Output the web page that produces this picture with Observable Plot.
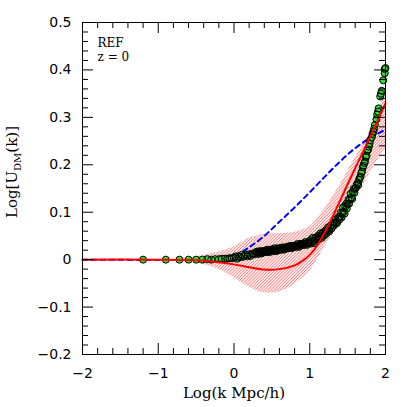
<!DOCTYPE html>
<html><head><meta charset="utf-8">
<script src="https://cdn.jsdelivr.net/npm/d3@7"></script>
<script src="https://cdn.jsdelivr.net/npm/@observablehq/plot@0.6"></script>
<style>
html,body{margin:0;padding:0;background:#fff;}
</style>
</head><body>
<svg width="0" height="0" style="position:absolute"><defs>
<pattern id="hatch" patternUnits="userSpaceOnUse" width="2.2" height="3" patternTransform="rotate(45)">
<line x1="0.5" y1="0" x2="0.5" y2="3" stroke="#ff2020" stroke-width="0.9" stroke-opacity="0.6"/>
</pattern></defs></svg>
<div id="chart"></div>
<script>
// ---- data ----
const xMajor = [-2, -1, 0, 1, 2];
const xMinor = [-1.8, -1.6, -1.4, -1.2, -0.8, -0.6, -0.4, -0.2, 0.2, 0.4, 0.6, 0.8, 1.2, 1.4, 1.6, 1.8];
const yMajor = [-0.2, -0.1, 0, 0.1, 0.2, 0.3, 0.4, 0.5];
const yMinor = [-0.18, -0.16, -0.14, -0.12, -0.08, -0.06, -0.04, -0.02, 0.02, 0.04, 0.06, 0.08,
  0.12, 0.14, 0.16, 0.18, 0.22, 0.24, 0.26, 0.28, 0.32, 0.34, 0.36, 0.38, 0.42, 0.44, 0.46, 0.48];

// hatched band (model range)
const bandX  = [-1.0, -0.6, -0.4, -0.2, 0, 0.2, 0.4, 0.6, 0.8, 1.0, 1.1, 1.2, 1.4, 1.6, 1.8, 2.0];
const bandLo = [0, -0.003, -0.010, -0.021, -0.038, -0.058, -0.070, -0.068, -0.052, -0.024, 0.0, 0.028, 0.076, 0.128, 0.185, 0.235];
const bandHi = [0, 0.003, 0.009, 0.016, 0.027, 0.045, 0.053, 0.055, 0.058, 0.070, 0.087, 0.108, 0.158, 0.215, 0.272, 0.355];

// red solid model
const redX = [-2, -1, -0.6, -0.3, 0, 0.2, 0.4, 0.6, 0.8, 0.9, 1.0, 1.1, 1.2, 1.3, 1.4, 1.5, 1.6, 1.7, 1.8, 1.9, 2.0];
const redY = [0, 0, -0.001, -0.004, -0.010, -0.016, -0.021, -0.020, -0.012, -0.003, 0.010, 0.030, 0.058, 0.090, 0.124, 0.159, 0.193, 0.226, 0.259, 0.294, 0.330];

// blue dashed model
const blueX = [-2, -0.4, -0.2, 0, 0.2, 0.4, 0.6, 0.8, 1.0, 1.2, 1.4, 1.6, 1.8, 2.0];
const blueY = [0, 0, 0.002, 0.008, 0.026, 0.050, 0.080, 0.110, 0.142, 0.175, 0.207, 0.235, 0.257, 0.274];

// simulation points
const ptX = [-1.20, -0.90, -0.72, -0.60, -0.50, -0.42, -0.35, -0.30, -0.25, -0.20, -0.16, -0.12, -0.09, -0.06, -0.03, 0.00,
  0.02, 0.04, 0.06, 0.08, 0.10, 0.12, 0.14, 0.16, 0.18, 0.20, 0.22, 0.24, 0.26, 0.28, 0.30,
  0.31, 0.32, 0.33, 0.34, 0.35, 0.36, 0.37, 0.38, 0.39, 0.40,
  0.41, 0.42, 0.43, 0.44, 0.45, 0.46, 0.47, 0.48, 0.49, 0.50,
  0.51, 0.52, 0.53, 0.54, 0.55, 0.56, 0.57, 0.58, 0.59, 0.60,
  0.61, 0.62, 0.63, 0.64, 0.65, 0.66, 0.67, 0.68, 0.69, 0.70,
  0.71, 0.72, 0.73, 0.74, 0.75, 0.76, 0.77, 0.78, 0.79, 0.80,
  0.81, 0.82, 0.83, 0.84, 0.85, 0.86, 0.87, 0.88, 0.89, 0.90,
  0.91, 0.92, 0.93, 0.94, 0.95, 0.96, 0.97, 0.98, 0.99, 1.00,
  1.01, 1.02, 1.03, 1.04, 1.05, 1.06, 1.07, 1.08, 1.09, 1.10,
  1.11, 1.12, 1.13, 1.14, 1.15, 1.16, 1.17, 1.18, 1.19, 1.20,
  1.21, 1.22, 1.23, 1.24, 1.25, 1.26, 1.27, 1.28, 1.29, 1.30,
  1.31, 1.32, 1.33, 1.34, 1.35, 1.36, 1.37, 1.38, 1.39, 1.40,
  1.41, 1.42, 1.43, 1.44, 1.45, 1.46, 1.47, 1.48, 1.49, 1.50,
  1.51, 1.52, 1.53, 1.54, 1.55, 1.56, 1.57, 1.58, 1.59, 1.60,
  1.61, 1.62, 1.63, 1.64, 1.65, 1.66, 1.67, 1.68, 1.69, 1.70,
  1.71, 1.72, 1.73, 1.74, 1.75, 1.76, 1.77, 1.78, 1.79, 1.80,
  1.82, 1.83, 1.84, 1.85, 1.86, 1.88, 1.89, 1.90, 1.91, 1.93, 1.94, 1.95, 1.97, 1.99, 1.99, 2.00];
const ptY = [0.000, 0.000, 0.000, 0.000, 0.000, 0.000, 0.001, 0.000, 0.001, 0.001, 0.002, 0.002, 0.002, 0.003, 0.003, 0.004,
  0.007, 0.002, 0.007, 0.005, 0.010, 0.006, 0.008, 0.011, 0.007, 0.011, 0.008, 0.013, 0.012, 0.012, 0.017,
  0.016, 0.012, 0.015, 0.018, 0.014, 0.013, 0.017, 0.018, 0.015, 0.017,
  0.019, 0.016, 0.018, 0.021, 0.017, 0.016, 0.020, 0.021, 0.017, 0.020,
  0.022, 0.018, 0.020, 0.024, 0.020, 0.018, 0.022, 0.024, 0.020, 0.022,
  0.024, 0.021, 0.023, 0.026, 0.023, 0.021, 0.025, 0.026, 0.023, 0.025,
  0.027, 0.024, 0.026, 0.029, 0.026, 0.024, 0.028, 0.029, 0.026, 0.028,
  0.030, 0.027, 0.029, 0.033, 0.029, 0.027, 0.032, 0.033, 0.030, 0.032,
  0.034, 0.031, 0.033, 0.037, 0.033, 0.031, 0.036, 0.037, 0.034, 0.036,
  0.041, 0.034, 0.039, 0.046, 0.039, 0.035, 0.044, 0.047, 0.040, 0.045,
  0.050, 0.043, 0.048, 0.055, 0.049, 0.046, 0.055, 0.058, 0.051, 0.056,
  0.062, 0.055, 0.061, 0.068, 0.062, 0.060, 0.069, 0.073, 0.066, 0.072,
  0.078, 0.072, 0.077, 0.085, 0.079, 0.077, 0.087, 0.090, 0.084, 0.090,
  0.099, 0.089, 0.098, 0.110, 0.101, 0.097, 0.112, 0.118, 0.108, 0.117,
  0.126, 0.118, 0.127, 0.139, 0.131, 0.128, 0.143, 0.149, 0.141, 0.150,
  0.152, 0.158, 0.161, 0.157, 0.168, 0.172, 0.175, 0.182, 0.186, 0.195,
  0.198, 0.204, 0.207, 0.216, 0.219, 0.229, 0.232, 0.238, 0.244, 0.252,
  0.258, 0.265, 0.270, 0.276, 0.284, 0.296, 0.306, 0.312, 0.319, 0.344, 0.350, 0.356, 0.378, 0.393, 0.402, 0.404];

// ---- tables built from the arrays ----
const band = bandX.map((x, i) => ({x, lo: bandLo[i], hi: bandHi[i]}));
const red = redX.map((x, i) => ({x, y: redY[i]}));
const blue = blueX.map((x, i) => ({x, y: blueY[i]}));
const pts = ptX.map((x, i) => ({x, y: ptY[i]}));

const minus = s => s.replace("-", "\u2212");
const fmtX = d => minus(String(d));
const fmtY = d => d === 0 ? "0" : minus(d.toFixed(1));
const tickFont = "'DejaVu Sans', sans-serif";
const serif = "'DejaVu Serif', serif";

// plot frame geometry
const W = 407, H = 407, mL = 82, mR = 22, mT = 22, mB = 53;
const fw = W - mL - mR, fh = H - mT - mB;

// inward ticks on all four sides (tick marks inset to a short length)
const tickMarks = [];
for (const [vals, len] of [[xMajor, 11], [xMinor, 6]]) {
  tickMarks.push(Plot.tickX(vals, {x: d => d, insetTop: fh - len, stroke: "black", strokeWidth: 1}));
  tickMarks.push(Plot.tickX(vals, {x: d => d, insetBottom: fh - len, stroke: "black", strokeWidth: 1}));
}
for (const [vals, len] of [[yMajor, 11], [yMinor, 6]]) {
  tickMarks.push(Plot.tickY(vals, {y: d => d, insetRight: fw - len, stroke: "black", strokeWidth: 1}));
  tickMarks.push(Plot.tickY(vals, {y: d => d, insetLeft: fw - len, stroke: "black", strokeWidth: 1}));
}

const chart = Plot.plot({
  width: W, height: H,
  marginLeft: mL, marginRight: mR, marginTop: mT, marginBottom: mB,
  style: {background: "white", color: "black", fontFamily: tickFont},
  x: {domain: [-2, 2]},
  y: {domain: [-0.2, 0.5]},
  marks: [
    Plot.areaY(band, {x: "x", y1: "lo", y2: "hi", fill: "url(#hatch)", curve: "catmull-rom"}),
    Plot.line(blue, {x: "x", y: "y", stroke: "#0000ff", strokeWidth: 2, strokeDasharray: "5,4", curve: "catmull-rom"}),
    Plot.dot(pts, {x: "x", y: "y", r: 3.5, fill: "#33dd33", stroke: "none"}),
    Plot.dot(pts, {x: "x", y: "y", r: 3.5, fill: "none", stroke: "black", strokeWidth: 1}),
    Plot.line(red, {x: "x", y: "y", stroke: "red", strokeWidth: 2, curve: "catmull-rom"}),
    Plot.frame({stroke: "black", strokeWidth: 1}),
    Plot.axisX(xMajor, {anchor: "bottom", tickSize: 0, tickPadding: 14, tickFormat: fmtX, label: null, fontSize: 14}),
    Plot.axisY(yMajor, {anchor: "left", tickSize: 0, tickPadding: 11, tickFormat: fmtY, label: null, fontSize: 14}),
    Plot.text(["Log(k Mpc/h)"], {frameAnchor: "bottom", dy: 39, lineAnchor: "middle", fontSize: 15, fontFamily: serif}),
    Plot.text(["REF"], {frameAnchor: "top-left", dx: 15, dy: 16, lineAnchor: "top", textAnchor: "start", fontSize: 12, fontFamily: serif}),
    Plot.text(["z = 0"], {frameAnchor: "top-left", dx: 15, dy: 30, lineAnchor: "top", textAnchor: "start", fontSize: 12, fontFamily: serif}),
    ...tickMarks
  ]
});

// y-axis label with subscript
const ns = "http://www.w3.org/2000/svg";
const yl = document.createElementNS(ns, "text");
yl.setAttribute("transform", "translate(17,172) rotate(-90)");
yl.setAttribute("text-anchor", "middle");
yl.setAttribute("font-family", "DejaVu Serif, serif");
yl.setAttribute("font-size", "15");
yl.setAttribute("fill", "black");
const parts = [["Log[U", null], ["DM", "sub"], ["(k)]", "back"]];
for (const [txt, kind] of parts) {
  const ts = document.createElementNS(ns, "tspan");
  ts.textContent = txt;
  if (kind === "sub") { ts.setAttribute("font-size", "10"); ts.setAttribute("dy", "4"); }
  if (kind === "back") { ts.setAttribute("dy", "-4"); }
  yl.appendChild(ts);
}
chart.appendChild(yl);
document.getElementById("chart").appendChild(chart);
</script>
</body></html>
